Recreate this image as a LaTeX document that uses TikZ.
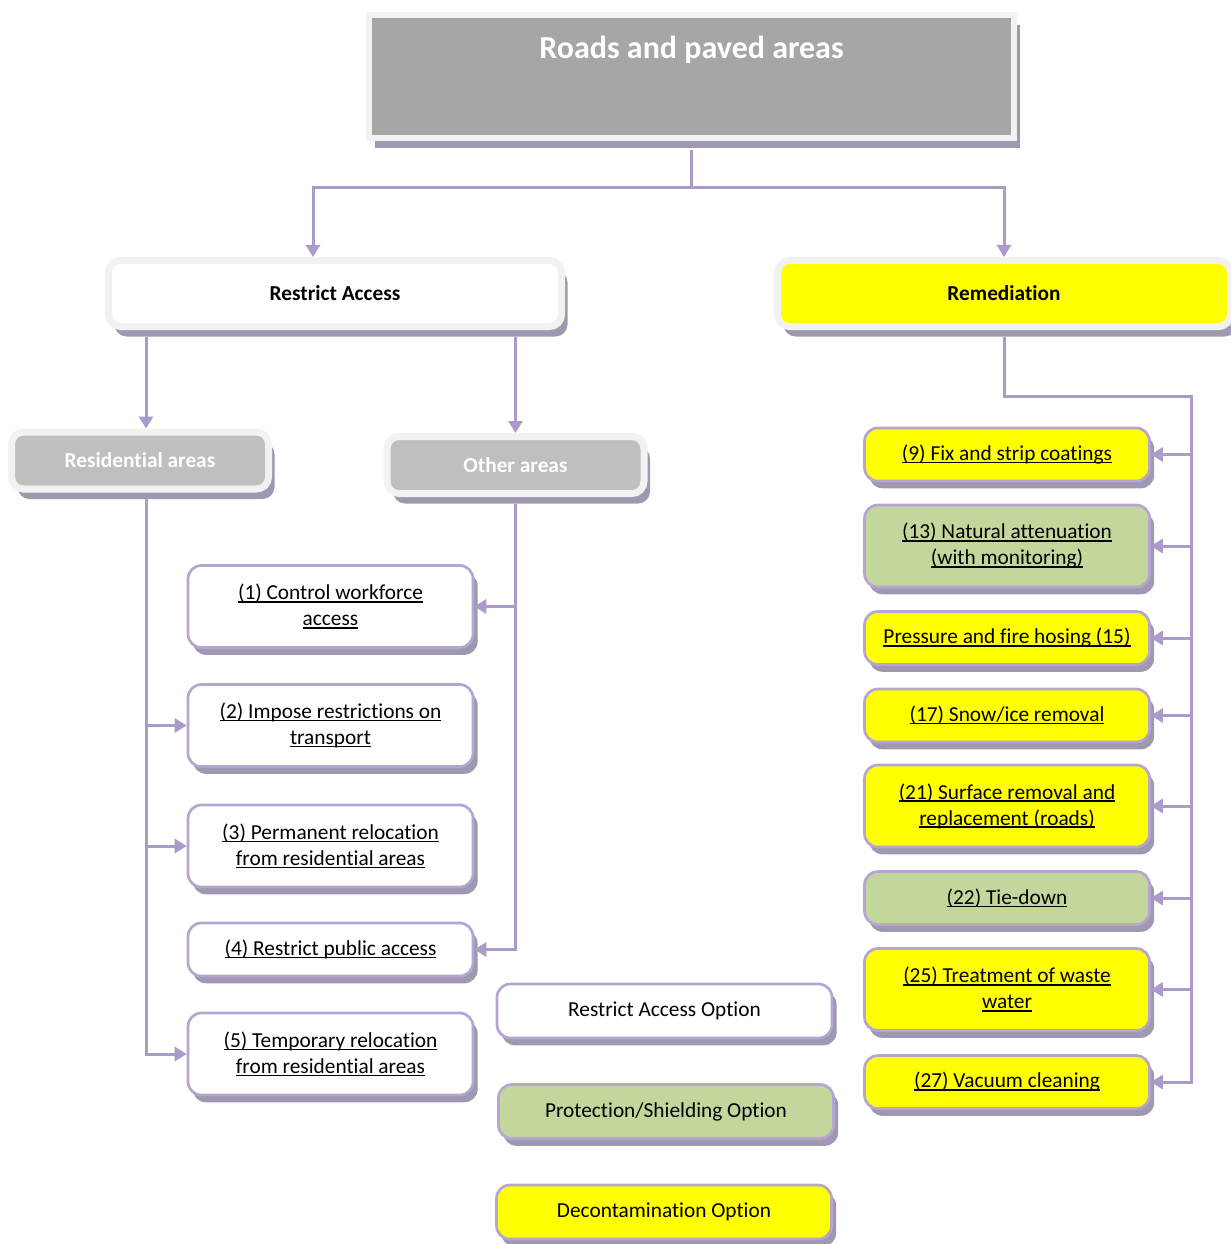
\documentclass[tikz,border=0pt]{standalone}
\usepackage{fontspec}
\setmainfont{Carlito}[Ligatures=NoCommon]
\usetikzlibrary{arrows.meta,shadows}

\definecolor{linec}{RGB}{170,155,202}
\definecolor{borderc}{RGB}{181,165,211}
\definecolor{shadowc}{RGB}{160,152,176}
\definecolor{framec}{RGB}{242,242,242}
\definecolor{titlegray}{RGB}{166,166,166}
\definecolor{areagray}{RGB}{191,191,191}
\definecolor{protect}{RGB}{195,214,155}
\definecolor{decon}{RGB}{255,255,0}

\newcommand\optlink[1]{\setbox0\hbox{#1}\rlap{\rule[-2pt]{\wd0}{1pt}}\box0}

\tikzset{
    titlebox/.style={rectangle, draw=framec, line width=4.5pt, fill=titlegray,
        inner sep=0pt, minimum width=483.75pt, text height=33pt, text depth=59.25pt,
        text=white, font=\fontsize{24pt}{29pt}\selectfont\bfseries,
        drop shadow={shadow xshift=4.5pt, shadow yshift=-7.5pt, fill=shadowc, opacity=1}},
    head/.style={rectangle, draw=framec, line width=5.25pt, rounded corners=9pt,
        minimum width=339.75pt, minimum height=49.5pt, align=center,
        font=\fontsize{16pt}{19.5pt}\selectfont\bfseries,
        drop shadow={shadow xshift=4.5pt, shadow yshift=-7.5pt, fill=shadowc, opacity=1}},
    area/.style={head, fill=areagray, text=white, minimum width=192.75pt, minimum height=42.75pt},
    opt/.style={rectangle, draw=borderc, line width=2pt, rounded corners=10pt, fill=white,
        minimum width=213.75pt, minimum height=39.75pt, align=center,
        font=\fontsize{16pt}{19.5pt}\selectfont,
        drop shadow={shadow xshift=3.5pt, shadow yshift=-5.5pt, fill=shadowc, opacity=1}},
    twoline/.style={minimum height=61.5pt},
    legend/.style={opt, minimum width=251.25pt, minimum height=40.5pt},
    conn/.style={draw=linec, line width=2.25pt},
    arr/.style={conn, -{Triangle[length=9pt,width=10.5pt]}}
}

\begin{document}
\begin{tikzpicture}[x=0.75pt,y=-0.75pt]
    \useasboundingbox (0,0) rectangle (1230,1244);

    % headings
    \node[titlebox] (top) at (691.5,76.5) {Roads and paved areas};
    \node[head, fill=white] (ra) at (335,293.5) {Restrict Access};
    \node[head, fill=decon] (rem) at (1004,293.5) {Remediation};
    \node[area] (res) at (140,460.5) {Residential areas};
    \node[area] (oth) at (515.5,465) {Other areas};

    % restrict access options
    \node[opt, twoline] (ra1) at (330.5,606.5) {\optlink{(1) Control workforce}\\\optlink{access}};
    \node[opt, twoline] (ra2) at (330.5,725.5) {\optlink{(2) Impose restrictions on}\\\optlink{transport}};
    \node[opt, twoline] (ra3) at (330.5,846) {\optlink{(3) Permanent relocation}\\\optlink{from residential areas}};
    \node[opt] (ra4) at (330.5,949.5) {\optlink{(4) Restrict public access}};
    \node[opt, twoline] (ra5) at (330.5,1054) {\optlink{(5) Temporary relocation}\\\optlink{from residential areas}};

    % remediation options
    \node[opt, fill=decon] (r9) at (1007,454.5) {\optlink{(9) Fix and strip coatings}};
    \node[opt, twoline, fill=protect] (r13) at (1007,546) {\optlink{(13) Natural attenuation}\\\optlink{(with monitoring)}};
    \node[opt, fill=decon] (r15) at (1007,638) {\optlink{Pressure and fire hosing (15)}};
    \node[opt, fill=decon] (r17) at (1007,715.5) {\optlink{(17) Snow/ice removal}};
    \node[opt, twoline, fill=decon] (r21) at (1007,806) {\optlink{(21) Surface removal and}\\\optlink{replacement (roads)}};
    \node[opt, fill=protect] (r22) at (1007,898) {\optlink{(22) Tie-down}};
    \node[opt, twoline, fill=decon] (r25) at (1007,989.5) {\optlink{(25) Treatment of waste}\\\optlink{water}};
    \node[opt, fill=decon] (r27) at (1007,1082) {\optlink{(27) Vacuum cleaning}};

    % legend
    \node[legend] (lra) at (664.5,1011) {Restrict Access Option};
    \node[legend, fill=protect] (lps) at (666,1111.5) {Protection/Shielding Option};
    \node[legend, fill=decon] (ldc) at (664,1212) {Decontamination Option};

    % connectors
    \coordinate (fork) at (691.5,188);
    \coordinate (resbus) at ([xshift=4.5pt]res.south);
    \coordinate (rembus) at (1191,396);

    \draw[conn, shorten <=7pt] (top.south) -- (fork);
    \draw[arr] (fork) -| ([xshift=-16.5pt]ra.north);
    \draw[arr] (fork) -| (rem.north);

    \draw[arr, shorten <=5pt] (resbus |- ra.south) -- ([xshift=4.5pt]res.north);
    \draw[arr, shorten <=5pt] (oth.north |- ra.south) -- (oth.north);

    \draw[arr, shorten <=5pt] (resbus) |- (ra5.west);
    \draw[arr] (resbus |- ra2.west) -- (ra2.west);
    \draw[arr] (resbus |- ra3.west) -- (ra3.west);

    \draw[arr, shorten <=5pt] (oth.south) |- (ra4.east);
    \draw[arr] (oth.south |- ra1.east) -- (ra1.east);

    \draw[arr, shorten <=5pt] (rem.south) |- (rembus) |- (r27.east);
    \draw[arr] (rembus |- r9.east) -- (r9.east);
    \draw[arr] (rembus |- r13.east) -- (r13.east);
    \draw[arr] (rembus |- r15.east) -- (r15.east);
    \draw[arr] (rembus |- r17.east) -- (r17.east);
    \draw[arr] (rembus |- r21.east) -- (r21.east);
    \draw[arr] (rembus |- r22.east) -- (r22.east);
    \draw[arr] (rembus |- r25.east) -- (r25.east);
\end{tikzpicture}
\end{document}
